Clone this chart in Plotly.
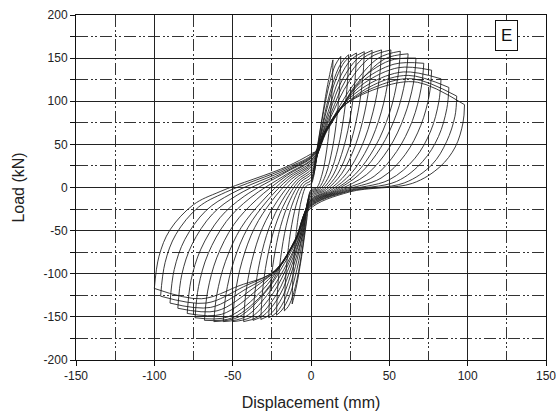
import plotly.graph_objects as go

# ---------------- data ----------------
# positive / negative loop tips (displacement mm, load kN)
pos_tip_x = [14, 19, 24, 29, 34, 39, 45, 51, 57, 62, 67, 72, 77, 83, 88, 93, 98]
pos_tip_y = [148, 152, 154, 156, 157.5, 159, 159.5, 159.5, 158, 155, 150, 144, 136, 126, 116, 106, 96]
neg_tip_x = [-12, -17, -22, -27, -32, -37, -43, -50, -56, -62, -68, -74, -79, -85, -90, -96, -100]
neg_tip_y = [-135, -143, -148, -151, -153, -154, -155.5, -155.5, -155.5, -155.5, -154, -151, -146, -140, -134, -126, -117]

# pinching points near the origin
pinch_pos_x = [0, 0.25, 0.45, 0.65, 0.85, 1.0, 1.15, 1.3, 1.4, 1.5, 1.6, 1.7, 1.75, 1.85, 1.9, 1.95, 2.0, 2.05]
pinch_pos_y = [0, 5, 9, 13, 17, 20, 23, 26, 28, 30, 32, 34, 35, 37, 38, 39, 40, 41]
pinch_neg_x = [-0.15, -0.25, -0.35, -0.45, -0.55, -0.65, -0.75, -0.8, -0.85, -0.9, -0.95, -1.0, -1.05, -1.1, -1.15, -1.2, -1.3]
pinch_neg_y = [-3, -5, -7, -9, -11, -13, -15, -16, -17, -18, -19, -20, -21, -22, -23, -24, -26]

# positive loading branches (pinch -> positive tip)
load_pos_x = [[3, 7, 10, 12.5], [4, 8, 12, 15.5], [5, 10, 15, 19.5], [5, 10, 16, 22], [5, 11, 18, 26],
              [6, 12, 20, 30], [6, 13, 22, 34], [7, 14, 24, 38], [8, 16, 27, 43], [9, 18, 29, 47],
              [10, 20, 30, 50], [10, 20, 32, 53], [10, 20, 34, 56], [10, 20, 37, 59], [10, 21, 40, 62],
              [10, 21, 43, 65], [10, 21, 46, 68]]
load_pos_y = [[35, 80, 113, 136], [45, 88, 122, 142], [52, 95, 127, 145], [52, 90, 126, 147], [52, 88, 126, 149],
              [55, 88, 125, 150], [55, 87, 124, 151], [58, 87, 122, 151], [60, 87, 119, 150], [63, 89, 118, 149],
              [65, 94, 122, 147], [66, 94, 122, 143], [67, 95, 121, 139], [68, 95, 120, 134], [68, 95, 119, 130],
              [69, 95, 118, 126], [69, 95, 117, 122]]

# positive unloading branches (positive tip -> pinch)
unload_pos_x = [[13.6, 12.3, 10.1, 7.0, 3.5], [18.4, 16.7, 13.7, 9.5, 4.75], [23.3, 21.1, 17.3, 12.0, 6.0],
                [28.1, 25.5, 20.9, 14.5, 7.25], [33.0, 29.9, 24.5, 17.0, 8.5], [37.8, 34.3, 28.1, 19.5, 9.75],
                [43.7, 39.6, 32.4, 22.5, 11.25], [49.5, 44.9, 36.7, 25.5, 12.75], [55.3, 50.2, 41.0, 28.5, 14.25],
                [60.1, 54.6, 44.6, 31.0, 15.5], [65.3, 59.6, 49.6, 35.5, 16.75], [70.3, 64.8, 54.7, 40.3, 18.0],
                [75.5, 70.1, 60.1, 44.7, 19.25], [81.6, 76.4, 66.4, 49.8, 20.75], [86.7, 81.4, 71.3, 54.6, 22.0],
                [91.9, 86.5, 77.2, 59.5, 23.25], [97.0, 92.1, 82.3, 64.7, 24.5]]
unload_pos_y = [[118.4, 81.4, 44.4, 14.8, -0.6], [121.6, 83.6, 45.6, 15.2, -1.0], [123.2, 84.7, 46.2, 15.4, -1.4],
                [124.8, 85.8, 46.8, 15.6, -1.8], [126.0, 86.6, 47.3, 15.8, -2.2], [127.2, 87.5, 47.7, 15.9, -2.6],
                [127.6, 87.7, 47.9, 16.0, -3.0], [127.6, 87.7, 47.9, 16.0, -3.2], [126.4, 86.9, 47.4, 15.8, -3.4],
                [124.0, 85.3, 46.5, 15.5, -3.6], [120.0, 82.5, 45.0, 15.0, -3.8], [115.2, 77.8, 41.8, 13.0, -4.0],
                [107.4, 72.1, 38.1, 10.9, -4.2], [99.5, 65.5, 34.0, 8.8, -4.4], [91.6, 59.2, 30.2, 7.0, -4.6],
                [82.7, 53.0, 26.5, 5.3, -4.8], [74.9, 47.0, 24.0, 4.8, -5.2]]

# negative loading branches (pinch -> negative tip)
load_neg_x = [[-2.5, -6, -9, -11], [-3.5, -7, -11, -14.5], [-4.5, -9, -14, -18.5], [-5, -10, -16, -22],
              [-5, -11, -18, -26], [-6, -12, -20, -30], [-6, -13, -22, -34], [-7, -14, -24, -38],
              [-7, -15, -26, -42], [-8, -17, -28, -46], [-9, -19, -29, -50], [-9, -20, -31, -53],
              [-10, -21, -34, -57], [-10, -22, -37, -60], [-10, -22, -40, -64], [-10, -23, -43, -67],
              [-10, -23, -46, -70]]
load_neg_y = [[-35, -80, -112, -128], [-45, -88, -122, -138], [-52, -95, -127, -142], [-52, -92, -127, -145],
              [-52, -90, -126, -147], [-54, -89, -125, -148], [-54, -88, -124, -150], [-56, -87, -122, -150],
              [-55, -87, -120, -150], [-57, -88, -119, -150], [-58, -90, -120, -151], [-59, -92, -119, -150],
              [-60, -94, -118, -147], [-60, -95, -117, -143], [-61, -96, -116, -139], [-61, -96, -115, -134],
              [-62, -97, -114, -129]]

# negative unloading branches (negative tip -> next pinch)
unload_neg_x = [[-11.64, -10.56, -8.64, -6.0, -3.0], [-16.49, -14.96, -12.24, -8.5, -4.25],
                [-21.34, -19.36, -15.84, -11.0, -5.5], [-26.19, -23.76, -19.44, -13.5, -6.75],
                [-31.04, -28.16, -23.04, -16.0, -8.0], [-35.89, -32.56, -26.64, -18.5, -9.25],
                [-41.71, -37.84, -30.96, -21.5, -10.75], [-48.5, -44.0, -36.0, -25.0, -12.5],
                [-54.32, -49.28, -40.32, -28.0, -14.0], [-60.14, -54.56, -44.64, -31.0, -15.5],
                [-65.96, -60.18, -49.3, -34.68, -15.64], [-71.78, -65.71, -54.02, -38.85, -15.54],
                [-76.63, -70.31, -58.07, -42.66, -15.8], [-82.45, -75.9, -62.9, -46.75, -15.3],
                [-87.3, -80.55, -67.05, -50.4, -15.3], [-93.12, -86.2, -71.8, -54.72, -15.36],
                [-97.0, -90.0, -75.0, -58.0, -15.0]]
unload_neg_y = [[-108.0, -74.25, -40.5, -13.5, 1.75], [-114.4, -78.65, -42.9, -14.3, 3.15],
                [-118.4, -81.4, -44.4, -14.8, 4.55], [-120.8, -83.05, -45.3, -15.1, 5.95],
                [-122.4, -84.15, -45.9, -15.3, 7.0], [-123.2, -84.7, -46.2, -15.4, 8.05],
                [-124.4, -85.5, -46.65, -15.55, 9.1], [-124.4, -85.5, -46.65, -15.55, 9.8],
                [-124.4, -85.5, -46.65, -15.55, 10.5], [-124.4, -85.5, -46.65, -15.55, 11.2],
                [-120.1, -81.6, -43.1, -13.9, 13.6], [-114.8, -77.0, -39.3, -12.1, 15.4],
                [-108.0, -71.5, -35.0, -10.2, 17.8], [-100.8, -65.8, -30.8, -8.4, 19.4],
                [-95.1, -60.3, -26.8, -6.7, 21.1], [-86.9, -54.2, -22.7, -5.7, 22.8],
                [-79.6, -49.1, -19.9, -4.7, 24.6]]

x_ticks = [-150, -100, -50, 0, 50, 100, 150]
x_minor = [-125, -75, -25, 25, 75, 125]
y_ticks = [-200, -150, -100, -50, 0, 50, 100, 150, 200]
y_minor = [-175, -125, -75, -25, 25, 75, 125, 175]
panel_label = "E"

# ---------------- assemble the path (branches split at the tips) ----------------
xs, ys = [], []
n = len(pos_tip_x)
for i in range(n):
    if i == 0:
        sx, sy = [], []
    else:
        sx = [neg_tip_x[i - 1]] + unload_neg_x[i - 1]
        sy = [neg_tip_y[i - 1]] + unload_neg_y[i - 1]
    sx += [pinch_pos_x[i]] + load_pos_x[i] + [pos_tip_x[i]]
    sy += [pinch_pos_y[i]] + load_pos_y[i] + [pos_tip_y[i]]
    xs += sx + [None]
    ys += sy + [None]
    sx = [pos_tip_x[i]] + unload_pos_x[i] + [pinch_neg_x[i]] + load_neg_x[i] + [neg_tip_x[i]]
    sy = [pos_tip_y[i]] + unload_pos_y[i] + [pinch_neg_y[i]] + load_neg_y[i] + [neg_tip_y[i]]
    xs += sx + [None]
    ys += sy + [None]
xs += [neg_tip_x[-1]] + unload_neg_x[-1] + [pinch_pos_x[-1]]
ys += [neg_tip_y[-1]] + unload_neg_y[-1] + [pinch_pos_y[-1]]

fig = go.Figure()
fig.add_trace(go.Scatter(
    x=xs, y=ys, mode="lines", connectgaps=False,
    line=dict(color="#1a1a1a", width=0.85, shape="spline", smoothing=1.0),
    hoverinfo="skip", showlegend=False,
))

font_family = "Liberation Sans, Arial, sans-serif"
dash_dot = "12px,3px,2px,2px,2px,3px"
axis_common = dict(
    showline=True, linecolor="#111", linewidth=1, mirror=True,
    showgrid=True, gridcolor="#222", gridwidth=1,
    zeroline=False, automargin=False, ticklabeloverflow="allow",
    ticks="outside", ticklen=5, tickcolor="#111", tickwidth=1,
    tickfont=dict(family=font_family, size=12, color="#222"),
)

fig.update_xaxes(
    range=[-150, 150], tickvals=x_ticks, ticktext=[str(v) for v in x_ticks],
    minor=dict(tickvals=x_minor, showgrid=True, gridcolor="#333",
               gridwidth=1, griddash=dash_dot, ticks=""),
    title=dict(text="Displacement (mm)", standoff=14,
               font=dict(family=font_family, size=16, color="#222")),
    **axis_common,
)
fig.update_yaxes(
    range=[-200, 200], tickvals=y_ticks, ticktext=[str(v) for v in y_ticks],
    minor=dict(tickvals=y_minor, showgrid=True, gridcolor="#333",
               gridwidth=1, griddash=dash_dot, ticks="outside", ticklen=5, tickcolor="#111"),
    title=dict(text="Load (kN)", standoff=14,
               font=dict(family=font_family, size=16, color="#222")),
    **axis_common,
)

fig.add_annotation(
    x=125, y=176, xref="x", yref="y", text=panel_label, showarrow=False,
    font=dict(family=font_family, size=17, color="#111"),
    bgcolor="white", bordercolor="#111", borderwidth=1, borderpad=5,
)

fig.update_layout(
    width=556, height=416,
    margin=dict(l=76, r=10, t=15, b=56),
    paper_bgcolor="white", plot_bgcolor="white",
)

# remove the browser's default 8 px page margin so the figure fills the window
fig.write_html("out.html", config={"displayModeBar": False},
               post_script="document.body.style.margin='0px';")
